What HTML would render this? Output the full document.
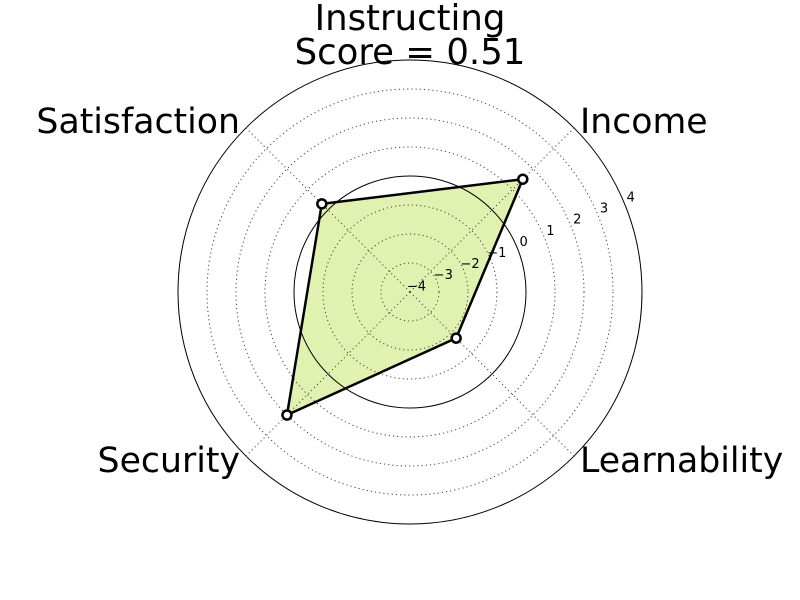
<!DOCTYPE html>
<html><head><meta charset="utf-8"><style>
body{margin:0;background:#fff;}
svg{display:block;font-family:"DejaVu Sans","Liberation Sans",sans-serif;}
</style></head><body>
<svg id="chart" width="800" height="600" viewBox="0 0 800 600">
<text x="410" y="30" font-size="35.5" text-anchor="middle">Instructing</text>
<text x="410" y="64" font-size="35.5" text-anchor="middle">Score = 0.51</text>
<g id="fill"></g><g id="grid"></g><g id="series"></g><g id="labels"></g>
</svg>
<script>
const categories=["Income","Satisfaction","Security","Learnability"];
const angles=[45,135,225,315];
const values=[1.5,0.3,2.0,-1.75];
const ticks=[-4,-3,-2,-1,0,1,2,3,4];
const rMin=-4,rMax=4;
const cx=410,cy=292,R=232;
const NS="http://www.w3.org/2000/svg";
function rs(v){return (v-rMin)/(rMax-rMin)*R;}
function pt(v,a){const r=rs(v),t=a*Math.PI/180;return [cx+r*Math.cos(t),cy-r*Math.sin(t)];}
function mk(tag,attrs,parent){const e=document.createElementNS(NS,tag);for(const k in attrs)e.setAttribute(k,attrs[k]);parent.appendChild(e);return e;}
const fillG=document.getElementById('fill'),grid=document.getElementById('grid'),ser=document.getElementById('series'),lab=document.getElementById('labels');
const pts=values.map((v,i)=>pt(v,angles[i]));
const area=mk('polygon',{points:pts.map(p=>p.join(',')).join(' '),fill:'#e1f2b0',stroke:'none'},fillG);


ticks.forEach(t=>{if(t===rMin)return;
 const solid=(t===0||t===rMax);
 const c=mk('circle',{cx:cx,cy:cy,r:rs(t),fill:'none',stroke:solid?'#000':'#444','stroke-width':1,'stroke-dasharray':solid?'none':'1.2,3'},grid);
 
 
});
angles.forEach(a=>{const p=pt(rMax,a);
 const l=mk('line',{x1:cx,y1:cy,x2:p[0],y2:p[1],stroke:'#444','stroke-dasharray':'1.2,3'},grid);
 
 
});
ticks.forEach(t=>{const r=rs(t)+7,th=22.5*Math.PI/180;
 const tx=mk('text',{x:cx+r*Math.cos(th),y:cy-r*Math.sin(th)+1,'font-size':13,'text-anchor':'middle'},lab);
 tx.textContent=t<0?'\u2212'+Math.abs(t):String(t);
 
 
});
const line=mk('polygon',{points:pts.map(p=>p.join(',')).join(' '),fill:'none',stroke:'#000','stroke-width':2.5,'stroke-linejoin':'round'},ser);


pts.forEach(p=>{const c=mk('circle',{cx:p[0],cy:p[1],r:4.5,fill:'#fff',stroke:'#000','stroke-width':2.5},ser);
 
 
});
const labPos=[[580,133,'start'],[240,133,'end'],[240,472,'end'],[580,472,'start']];
categories.forEach((c,i)=>{const t=mk('text',{x:labPos[i][0],y:labPos[i][1],'font-size':34.7,'text-anchor':labPos[i][2]},lab);
 t.textContent=c;
 
 
});
</script>
</body></html>
